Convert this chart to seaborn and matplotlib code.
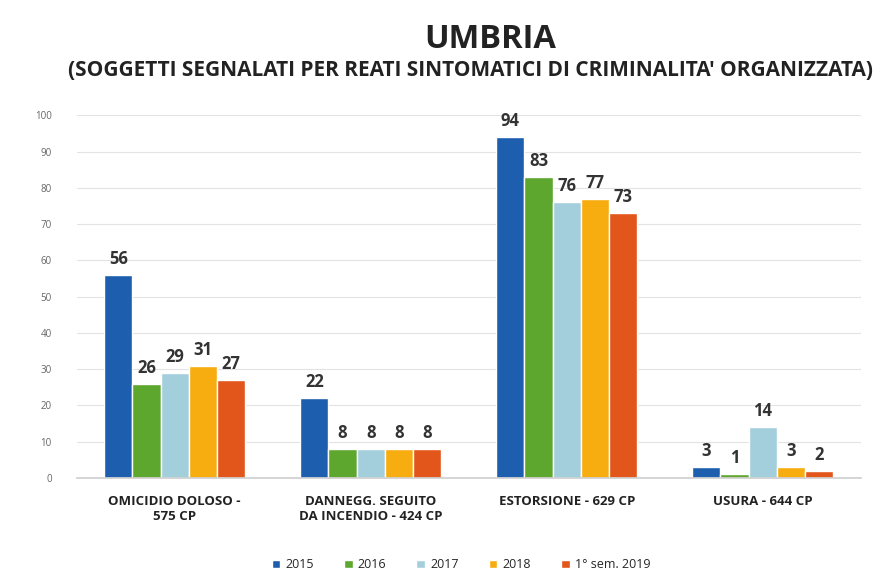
import matplotlib
matplotlib.use("Agg")
import matplotlib.pyplot as plt
import seaborn as sns
import pandas as pd

categories = ["OMICIDIO DOLOSO -\n575 CP", "DANNEGG. SEGUITO\nDA INCENDIO - 424 CP",
              "ESTORSIONE - 629 CP", "USURA - 644 CP"]
series = ["2015", "2016", "2017", "2018", "1° sem. 2019"]
v2015 = [56, 22, 94, 3]
v2016 = [26, 8, 83, 1]
v2017 = [29, 8, 76, 14]
v2018 = [31, 8, 77, 3]
v2019 = [27, 8, 73, 2]
colors = ["#1d5fae", "#5ea72e", "#a3cfdc", "#f7ac10", "#e2561b"]

rows = []
for s, vals in zip(series, [v2015, v2016, v2017, v2018, v2019]):
    for c, v in zip(categories, vals):
        rows.append({"cat": c, "serie": s, "val": v})
df = pd.DataFrame(rows)

sns.set_theme(style="white")
plt.rcParams['font.family'] = ['Open Sans', 'DejaVu Sans']

fig = plt.figure(figsize=(8.92, 5.85), dpi=100)
ax = fig.add_axes([0.086, 0.183, 0.879, 0.62])

sns.barplot(data=df, x="cat", y="val", hue="serie", palette=colors,
            width=0.72, saturation=1, ax=ax, legend=True)

ax.set_ylim(0, 100)
ax.set_yticks(range(0, 101, 10))
ax.yaxis.grid(True, color="#e3e3e3", linewidth=0.8)
ax.set_axisbelow(True)
for sp in ax.spines.values():
    sp.set_visible(False)
ax.spines["bottom"].set_visible(True)
ax.spines["bottom"].set_color("#d0d0d0")
ax.set_xlabel("")
ax.set_ylabel("")
ax.tick_params(axis="y", labelsize=7, colors="#666666", length=0, pad=18)
ax.tick_params(axis="x", labelsize=9.5, colors="#222222", length=0, pad=12)
for lbl in ax.get_xticklabels():
    lbl.set_fontweight("bold")

for cont in ax.containers:
    ax.bar_label(cont, fontsize=12, fontweight="bold", color="#333333", padding=5)

ax.legend(loc="center", bbox_to_anchor=(0.49, -0.24), ncol=5, frameon=False,
          fontsize=9, handlelength=0.7, handleheight=0.7, columnspacing=2.4,
          handletextpad=0.4)

fig.text(0.549, 0.932, "UMBRIA", ha="center", va="center", fontsize=23.5,
         fontweight="bold", color="#222222")
fig.text(0.528, 0.88, "(SOGGETTI SEGNALATI PER REATI SINTOMATICI DI CRIMINALITA' ORGANIZZATA)",
         ha="center", va="center", fontsize=15, fontweight="bold", color="#222222")

fig.savefig("out.png", dpi=100)
